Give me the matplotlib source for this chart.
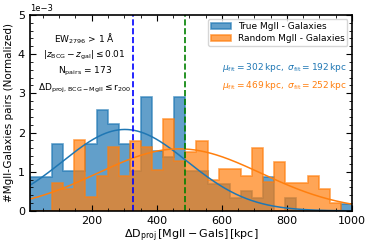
import matplotlib

matplotlib.use("Agg")
import matplotlib.pyplot as plt
import numpy as np
from matplotlib.ticker import MultipleLocator

# histogram heights (units of 1e-3), 29 bins between 10 and 1000 kpc
true_vals = [0.86, 0.86, 1.71, 1.03, 1.03, 1.71, 2.57, 2.23, 1.71, 1.03,
             2.91, 1.54, 1.37, 2.91, 1.03, 1.03, 0.69, 0.69, 0.34, 0.51,
             0.34, 0.86, 0.0, 0.34, 0.0, 0.0, 0.0, 0.0, 0.17]
rand_vals = [0.0, 0.0, 0.72, 0.56, 1.81, 0.36, 0.89, 1.62, 0.89, 1.79,
             1.62, 1.05, 2.35, 1.28, 1.50, 1.78, 0.80, 1.06, 1.06, 0.89,
             1.60, 0.75, 1.26, 0.72, 0.72, 0.90, 0.55, 0.20, 0.0]
d_min, d_max = 10, 1000

# gaussian fits quoted on the plot
fit_true = (302, 192)
fit_rand = (469, 252)

# vertical reference lines
vline_true = 326
vline_rand = 488

labels = ["True MgII - Galaxies", "Random MgII - Galaxies"]

edges = np.linspace(d_min, d_max, len(true_vals) + 1)
centers = 0.5 * (edges[:-1] + edges[1:])


def gauss(x, mu, sig):
    return np.exp(-0.5 * ((x - mu) / sig) ** 2) / (sig * np.sqrt(2 * np.pi))


fig = plt.figure(figsize=(3.74, 2.49), dpi=100)
ax = fig.add_axes([0.080, 0.153, 0.861, 0.787])

ax.hist(centers, bins=edges, weights=np.array(true_vals) * 1e-3, histtype="stepfilled",
        color="C0", alpha=0.7, lw=1.2, edgecolor="C0", label=labels[0])
ax.hist(centers, bins=edges, weights=np.array(rand_vals) * 1e-3, histtype="stepfilled",
        color="C1", alpha=0.7, lw=1.2, edgecolor="C1", label=labels[1])

xx = np.linspace(d_min, d_max, 300)
ax.plot(xx, gauss(xx, *fit_true), color="C0", lw=1.1)
ax.plot(xx, gauss(xx, *fit_rand), color="C1", lw=1.1)

ax.axvline(vline_true, color="blue", ls="--", lw=1.2)
ax.axvline(vline_rand, color="green", ls="--", lw=1.2)

ax.set_xlim(d_min, d_max)
ax.set_ylim(0, 5e-3)
ax.xaxis.set_major_locator(MultipleLocator(200))
ax.xaxis.set_minor_locator(MultipleLocator(50))
ax.yaxis.set_major_locator(MultipleLocator(1e-3))
ax.yaxis.set_minor_locator(MultipleLocator(2e-4))
ax.ticklabel_format(axis="y", style="sci", scilimits=(0, 0))
ax.tick_params(which="both", direction="in", top=True, right=True, labelsize=8)
ax.tick_params(which="major", length=4)
ax.tick_params(which="minor", length=2)
ax.yaxis.get_offset_text().set_fontsize(6)

ax.set_xlabel(r"$\Delta \rm D_{proj}\,[MgII - Gals]\,[kpc]$", fontsize=8, labelpad=1)
ax.set_ylabel("#MgII-Galaxies pairs (Normalized)", fontsize=7.5, labelpad=3)

info = [r"$\rm EW_{2796}$ > 1 $\rm\AA$",
        r"$|z_{\rm BCG} - z_{\rm gal}| \leq 0.01$",
        r"$\rm N_{pairs}$ = 173",
        r"$\rm \Delta D_{proj,\,BCG-MgII} \leq r_{200}$"]
for i, line in enumerate(info):
    ax.text(0.17, 0.88 - i * 0.085, line, transform=ax.transAxes, ha="center",
            va="center", fontsize=6.5)

ax.legend(loc="upper right", fontsize=6.5, frameon=True, borderpad=0.3,
          handlelength=2.2, labelspacing=0.3)

ax.text(0.985, 0.73, r"$\mu_{\rm fit} = %d\,{\rm kpc},\ \sigma_{\rm fit} = %d\,{\rm kpc}$" % fit_true,
        transform=ax.transAxes, ha="right", va="center", fontsize=6.5, color="C0")
ax.text(0.985, 0.64, r"$\mu_{\rm fit} = %d\,{\rm kpc},\ \sigma_{\rm fit} = %d\,{\rm kpc}$" % fit_rand,
        transform=ax.transAxes, ha="right", va="center", fontsize=6.5, color="C1")

for s in ax.spines.values():
    s.set_linewidth(1.2)

fig.savefig("out.png", dpi=100)
